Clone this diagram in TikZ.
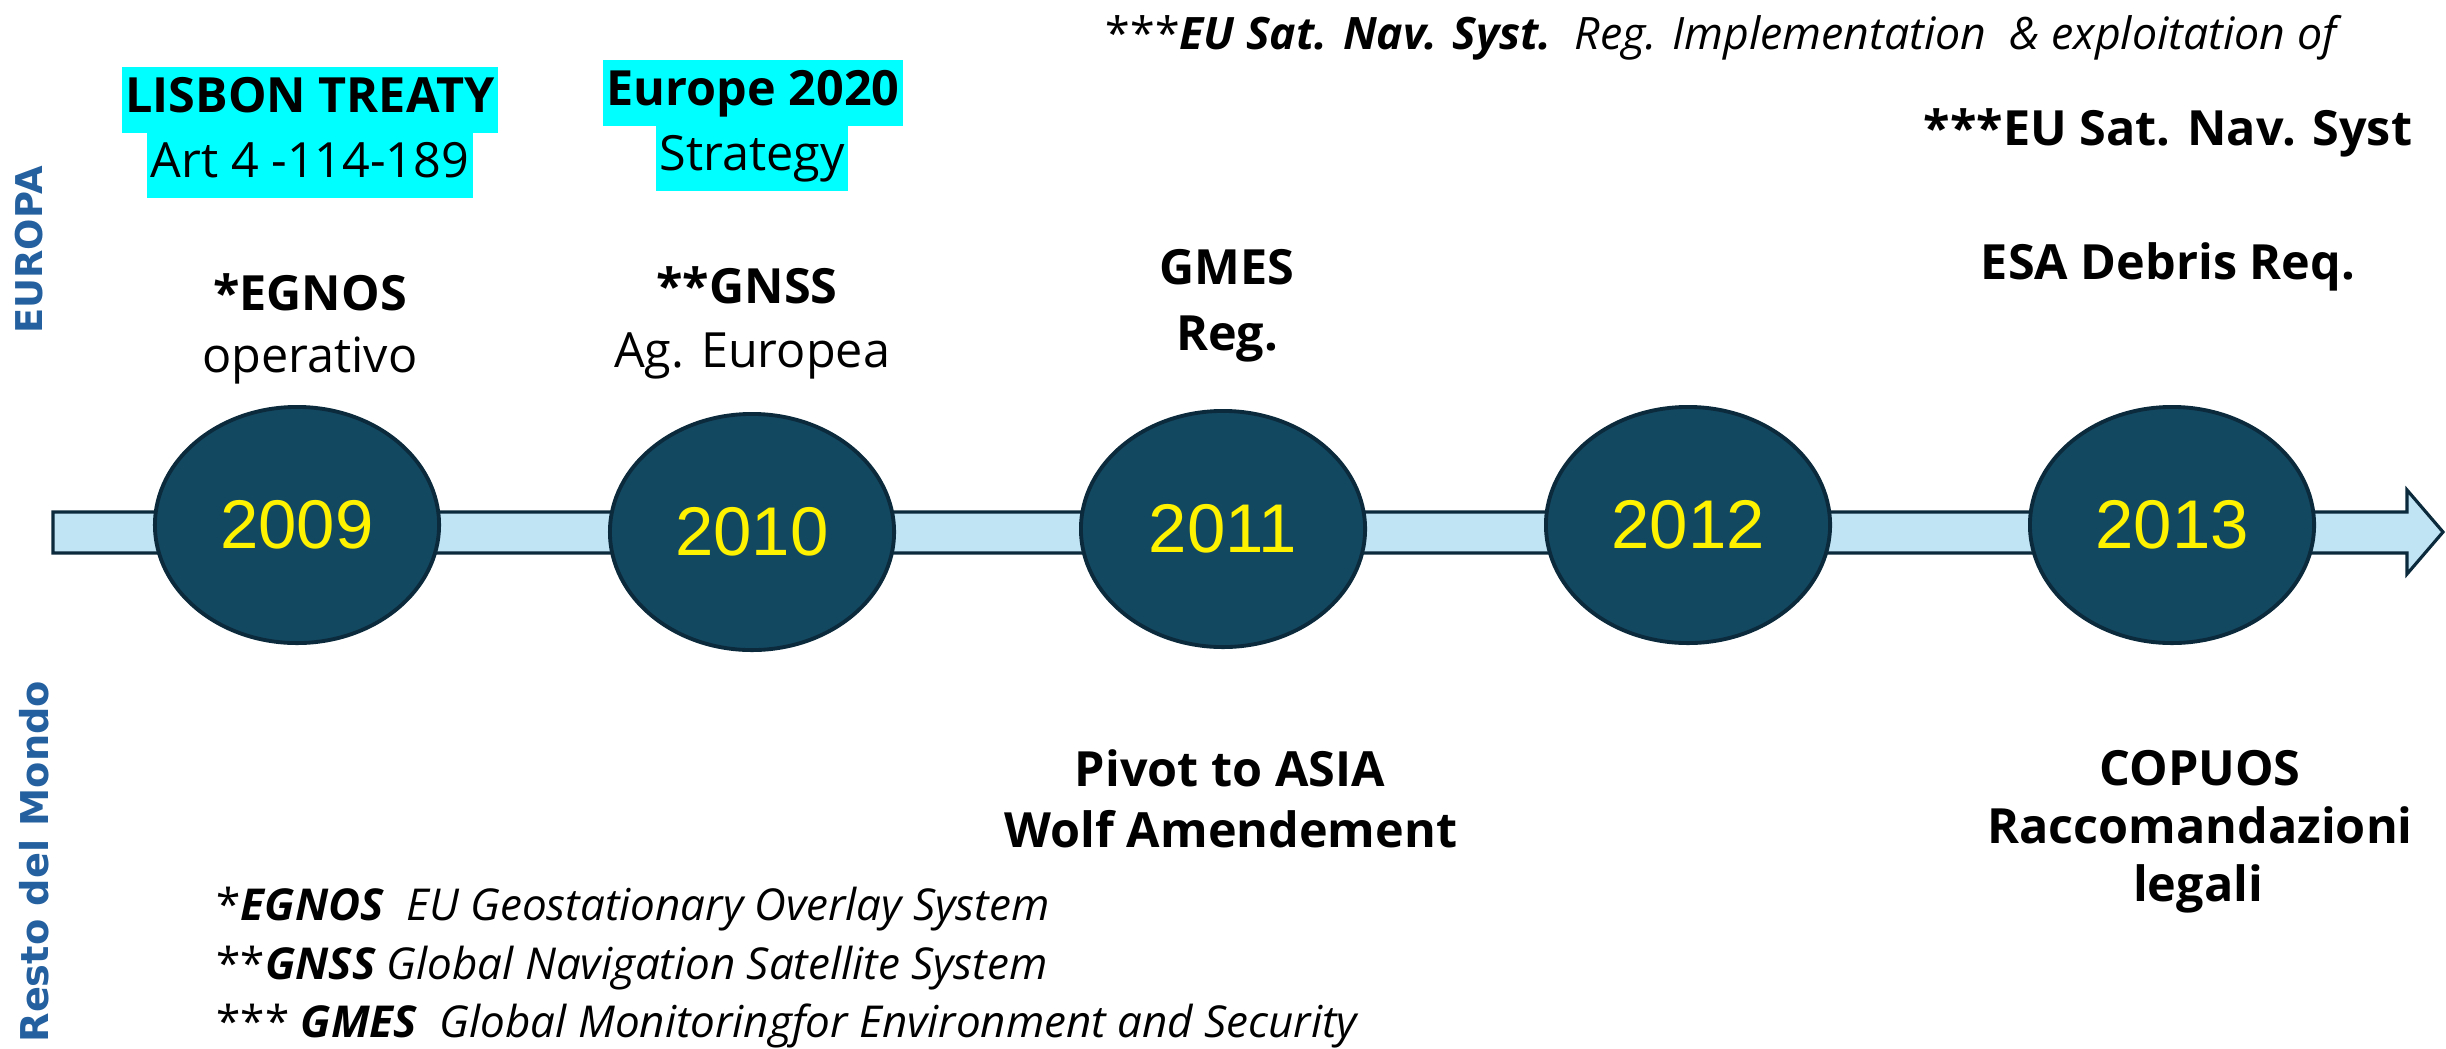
\documentclass[tikz,border=0pt]{standalone}
\usepackage{fontspec}
\setmainfont{Open Sans}
\newfontfamily\yearfont{Liberation Sans}
\newfontfamily\sidefont{DejaVu Sans}
\usetikzlibrary{shapes.geometric}
\definecolor{barblue}{HTML}{C1E4F5}
\definecolor{darkline}{HTML}{0B2A3B}
\definecolor{yearfill}{HTML}{134861}
\definecolor{sideblue}{HTML}{24609F}
\definecolor{hlcyan}{HTML}{00FFFF}

\begin{document}
\begin{tikzpicture}[x=0.01cm,y=-0.01cm,
    year/.style={ellipse,draw=darkline,line width=1.1pt,fill=yearfill,
      minimum width=2.84cm,minimum height=2.36cm,inner sep=0pt,text=yellow,
      font=\yearfont\fontsize{19.6}{20}\selectfont},
    lab/.style={anchor=base,inner sep=0pt,font=\fontsize{13.8}{16}\selectfont\bfseries},
    txt/.style={anchor=base,inner sep=0pt,font=\fontsize{13.8}{16}\selectfont},
    hl/.style={fill=hlcyan,inner xsep=1pt,inner ysep=0pt,text height=0.72em,text depth=0pt,minimum height=0.65cm},
    note/.style={anchor=base west,inner sep=0pt,font=\fontsize{12.5}{14}\selectfont\itshape},
    side/.style={rotate=90,inner sep=0pt,text=sideblue,font=\sidefont\bfseries\fontsize{10.5}{12}\selectfont}]
    \useasboundingbox (0,0) rectangle (2446,1048);
    % timeline arrow
    \draw[draw=darkline,line width=0.9pt,fill=barblue] (53,512) -- (2407,512) -- (2407,490) -- (2443,532)
        -- (2407,574) -- (2407,553) -- (53,553) -- cycle;
    \foreach \yr/\px/\py in {2009/297/525,2010/752/532,2011/1223/529,2012/1688/525,2013/2172/525}
        \node[year] (y\yr) at (\px,\py) {\yr};
    % europa
    \node[side] (europa) at (29,250) {EUROPA};
    \node[side,anchor=base east,font=\sidefont\bfseries\fontsize{10.9}{12}\selectfont] (mondo) at (48,680) {Resto del Mondo};
    \node[hl,font=\fontsize{13.8}{16}\selectfont\bfseries] (lisbon) at (310,100) {LISBON TREATY};
    \node[hl,font=\fontsize{13.8}{16}\selectfont] (art) at (310,165) {Art 4 -114-189};
    \node[hl,font=\fontsize{13.8}{16}\selectfont\bfseries] (eu2020) at (753,93) {Europe 2020};
    \node[hl,font=\fontsize{13.8}{16}\selectfont] (strat) at (752,158) {Strategy};
    \node[lab] (egnos) at (310,310) {*EGNOS};
    \node[txt] (egnosop) at (310,372) {operativo};
    \node[lab] (gnss) at (747,303) {**GNSS};
    \node[txt] (gnssag) at (752,367) {Ag. Europea};
    \node[lab] (gmes) at (1227,284) {GMES};
    \node[lab] (gmesreg) at (1227,350) {Reg.};
    \node[anchor=base west,inner sep=0pt,font=\fontsize{12.7}{14}\selectfont\itshape] (regline) at (1105,49)
        {{\upshape ***}\textbf{EU Sat. Nav. Syst.}\ \ Reg. Implementation\ \ \& exploitation of};
    \node[lab] (eusat) at (2168,145) {***EU Sat. Nav. Syst};
    \node[lab] (esa) at (2168,279) {ESA Debris Req.};
    % resto del mondo
    \node[lab] (pivot) at (1230,786) {Pivot to ASIA};
    \node[lab] (wolf) at (1231,847) {Wolf Amendement};
    \node[lab] (copuos) at (2200,785) {COPUOS};
    \node[lab] (racc) at (2200,843) {Raccomandazioni};
    \node[lab] (legali) at (2198,901) {legali};
    % note
    \node[note] (n1) at (216,920) {{\upshape *}\textbf{EGNOS}\ \ EU Geostationary Overlay System};
    \node[note] (n2) at (216,979) {{\upshape **}\textbf{GNSS} Global Navigation Satellite System};
    \node[note] (n3) at (216,1037) {{\upshape *** }\textbf{GMES}\ \ Global Monitoringfor Environment and Security};
\end{tikzpicture}
\end{document}
